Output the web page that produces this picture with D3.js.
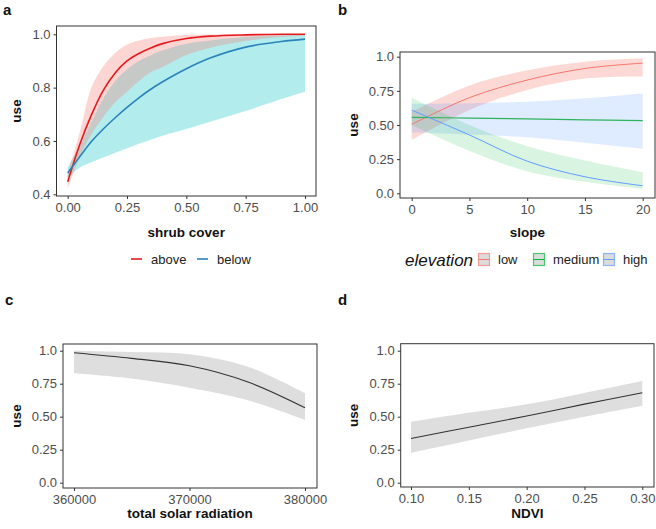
<!DOCTYPE html>
<html><head><meta charset="utf-8">
<script src="https://cdn.jsdelivr.net/npm/d3@7"></script>
<style>
body{margin:0;background:#fff;}
svg{display:block;font-family:"Liberation Sans",Arial,sans-serif;}
</style></head>
<body><svg id="chart" width="656" height="529"></svg>
<script>
// ---------- Panel a: shrub cover ----------
const shrubX      = [0, 0.05, 0.1, 0.15, 0.2, 0.25, 0.3, 0.35, 0.4, 0.5, 0.6, 0.75, 0.9, 1.0];
const aboveFit    = [0.447, 0.585, 0.698, 0.79, 0.855, 0.90, 0.928, 0.949, 0.965, 0.984, 0.993, 0.998, 1.0, 1.0];
const aboveLow    = [0.42, 0.54, 0.625, 0.69, 0.745, 0.785, 0.825, 0.858, 0.877, 0.922, 0.95, 0.975, 0.99, 0.995];
const aboveHigh   = [0.48, 0.63, 0.80, 0.88, 0.93, 0.962, 0.977, 0.986, 0.991, 0.997, 0.999, 1.0, 1.0, 1.0];
const belowFit    = [0.48, 0.54, 0.598, 0.645, 0.687, 0.726, 0.762, 0.794, 0.822, 0.871, 0.911, 0.952, 0.973, 0.982];
const belowLow    = [0.462, 0.50, 0.52, 0.538, 0.556, 0.573, 0.59, 0.605, 0.62, 0.645, 0.672, 0.712, 0.757, 0.785];
const belowHigh   = [0.50, 0.58, 0.67, 0.76, 0.825, 0.869, 0.90, 0.921, 0.94, 0.965, 0.977, 0.99, 0.996, 1.0];
const shrubXTicks = [0, 0.25, 0.5, 0.75, 1.0];
const shrubYTicks = [0.4, 0.6, 0.8, 1.0];
const shrubGroups = ["above", "below"];

// ---------- Panel b: slope x elevation ----------
const slopeX      = [0, 5, 10, 15, 20];
const lowFit      = [0.505, 0.70, 0.829, 0.914, 0.953];
const lowLo       = [0.39, 0.61, 0.756, 0.84, 0.855];
const lowHi       = [0.597, 0.79, 0.90, 0.963, 0.988];
const mediumFit   = [0.556, 0.551, 0.545, 0.538, 0.532];
const mediumLo    = [0.445, 0.43, 0.41, 0.37, 0.326];
const mediumHi    = [0.655, 0.66, 0.67, 0.695, 0.731];
const highFit     = [0.609, 0.427, 0.235, 0.121, 0.055];
const highLo      = [0.50, 0.31, 0.16, 0.085, 0.033];
const highHi      = [0.70, 0.50, 0.345, 0.24, 0.155];
const slopeXTicks = [0, 5, 10, 15, 20];
const useTicks    = [0, 0.25, 0.5, 0.75, 1.0];
const elevLevels  = ["low", "medium", "high"];

// ---------- Panel c: total solar radiation ----------
const solarX      = [360000, 365000, 370000, 375000, 380000];
const solarFit    = [0.985, 0.942, 0.886, 0.765, 0.568];
const solarLo     = [0.83, 0.79, 0.72, 0.626, 0.475];
const solarHi     = [1.0, 0.99, 0.973, 0.88, 0.678];
const solarXTicks = [360000, 370000, 380000];

// ---------- Panel d: NDVI ----------
const ndviX       = [0.10, 0.15, 0.20, 0.25, 0.30];
const ndviFit     = [0.335, 0.42, 0.505, 0.595, 0.682];
const ndviLo      = [0.227, 0.32, 0.412, 0.50, 0.583];
const ndviHi      = [0.462, 0.53, 0.594, 0.68, 0.77];
const ndviXTicks  = [0.10, 0.15, 0.20, 0.25, 0.30];

const svg = d3.select("#chart");
const tickCol = "#4d4d4d";
const curve = d3.curveCatmullRom.alpha(0.5);

function panel(o) {
  const g = svg.append("g");
  const x = d3.scaleLinear().domain(o.xd).range(o.xr);
  const y = d3.scaleLinear().domain(o.yd).range(o.yr);
  svg.append("text").attr("x", o.letter[1]).attr("y", o.letter[2]).text(o.letter[0])
    .attr("font-size", 15).attr("font-weight", "bold").attr("fill", "#111");
  const layer = g.append("g");
  const ax = g.append("g").attr("transform", `translate(0,${o.box[3]})`)
    .call(d3.axisBottom(x).tickValues(o.xt).tickFormat(o.xf).tickSize(3).tickPadding(4));
  const ay = g.append("g").attr("transform", `translate(${o.box[0]},0)`)
    .call(d3.axisLeft(y).tickValues(o.yt).tickFormat(o.yf).tickSize(3).tickPadding(3));
  [ax, ay].forEach(a => {
    a.select(".domain").remove();
    a.selectAll(".tick line").attr("stroke", "#333").attr("stroke-width", 1);
    a.selectAll(".tick text").attr("fill", tickCol).attr("font-size", 13)
      .attr("font-family", "'Liberation Sans',Arial,sans-serif");
  });
  g.append("rect").attr("x", o.box[0]).attr("y", o.box[1])
    .attr("width", o.box[2] - o.box[0]).attr("height", o.box[3] - o.box[1])
    .attr("fill", "none").attr("stroke", "#333").attr("stroke-width", 1);
  svg.append("text").attr("x", (o.box[0] + o.box[2]) / 2).attr("y", o.xtY).attr("text-anchor", "middle")
    .attr("font-size", 13.5).attr("font-weight", "bold").attr("fill", "#111").text(o.xlab);
  svg.append("text").attr("transform", `translate(${o.ytX},${(o.box[1] + o.box[3]) / 2}) rotate(-90)`)
    .attr("text-anchor", "middle").attr("font-size", 13.5).attr("font-weight", "bold").attr("fill", "#111").text("use");
  return {x, y, layer};
}

function ribbon(p, xs, lo, hi, fill, op) {
  const area = d3.area().x((d, i) => p.x(xs[i])).y0((d, i) => p.y(lo[i])).y1((d, i) => p.y(hi[i])).curve(curve);
  p.layer.append("path").datum(xs).attr("d", area).attr("fill", fill).attr("fill-opacity", op);
}
function line(p, xs, ys, col, w) {
  const ln = d3.line().x((d, i) => p.x(xs[i])).y((d, i) => p.y(ys[i])).curve(curve);
  p.layer.append("path").datum(xs).attr("d", ln).attr("fill", "none").attr("stroke", col).attr("stroke-width", w);
}

// Panel a
const pa = panel({xd: [0, 1], xr: [67.7, 305], yd: [0.4, 1.0], yr: [194.3, 34.3],
  box: [56.5, 26, 316, 196], xt: shrubXTicks, xf: d3.format(".2f"), yt: shrubYTicks, yf: d3.format(".1f"),
  letter: ["a", 3, 15], xlab: "shrub cover", xtY: 237, ytX: 21});
ribbon(pa, shrubX, belowLow, belowHigh, "#00BFC4", 0.3);
ribbon(pa, shrubX, aboveLow, aboveHigh, "#F8766D", 0.3);
line(pa, shrubX, aboveFit, "#e41a1c", 1.6);
line(pa, shrubX, belowFit, "#2b83ba", 1.6);
const legA = [{k: shrubGroups[0], c: "#e41a1c", x: 131}, {k: shrubGroups[1], c: "#2b83ba", x: 197}];
legA.forEach(d => {
  svg.append("line").attr("x1", d.x).attr("x2", d.x + 11).attr("y1", 259).attr("y2", 259)
    .attr("stroke", d.c).attr("stroke-width", 1.6);
  svg.append("text").attr("x", d.x + 20).attr("y", 264).attr("font-size", 13).attr("fill", "#222").text(d.k);
});

// Panel b
const fmtUse = d => d === 0 ? "0.0" : d === 1 ? "1.0" : d3.format(".2f")(d);
const pb = panel({xd: [0, 20], xr: [411.7, 642.7], yd: [0, 1], yr: [193.3, 56.7],
  box: [400, 52, 655, 198], xt: slopeXTicks, xf: d3.format("d"), yt: useTicks, yf: fmtUse,
  letter: ["b", 338, 15], xlab: "slope", xtY: 237, ytX: 358});
ribbon(pb, slopeX, lowLo, lowHi, "#F8766D", 0.28);
ribbon(pb, slopeX, mediumLo, mediumHi, "#619CFF", 0.2);
ribbon(pb, slopeX, highLo, highHi, "#00BA38", 0.15);
line(pb, slopeX, lowFit, "#F8766D", 1);
line(pb, slopeX, mediumFit, "#2fb35a", 1.2);
line(pb, slopeX, highFit, "#619CFF", 1);
svg.append("text").attr("x", 405).attr("y", 266).attr("font-size", 17).attr("font-style", "italic")
  .attr("fill", "#111").text("elevation");
const legB = [{k: elevLevels[0], c: "#F8766D", x: 478}, {k: elevLevels[1], c: "#00BA38", x: 533}, {k: elevLevels[2], c: "#619CFF", x: 603}];
legB.forEach(d => {
  svg.append("rect").attr("x", d.x + 0.5).attr("y", 253.5).attr("width", 11).attr("height", 12)
    .attr("fill", "#dcdcdc").attr("stroke", d.c).attr("stroke-width", 1.2).attr("stroke-opacity", 0.7);
  svg.append("line").attr("x1", d.x + 0.5).attr("x2", d.x + 11.5).attr("y1", 259.5).attr("y2", 259.5)
    .attr("stroke", d.c).attr("stroke-width", 1);
  svg.append("text").attr("x", d.x + 20).attr("y", 264).attr("font-size", 13).attr("fill", "#222").text(d.k);
});

// Panel c
const pc = panel({xd: [360000, 380000], xr: [74, 305], yd: [0, 1], yr: [482.7, 350.7],
  box: [63, 344, 317, 488], xt: solarXTicks, xf: d3.format("d"), yt: useTicks, yf: fmtUse,
  letter: ["c", 5, 305], xlab: "total solar radiation", xtY: 518, ytX: 21});
ribbon(pc, solarX, solarLo, solarHi, "#bdbdbd", 0.5);
line(pc, solarX, solarFit, "#333", 1.1);

// Panel d
const pd = panel({xd: [0.1, 0.3], xr: [411, 642.3], yd: [0, 1], yr: [482.7, 350.7],
  box: [400.7, 343.7, 654, 487], xt: ndviXTicks, xf: d3.format(".2f"), yt: useTicks, yf: fmtUse,
  letter: ["d", 338, 305], xlab: "NDVI", xtY: 518, ytX: 358});
ribbon(pd, ndviX, ndviLo, ndviHi, "#bdbdbd", 0.5);
line(pd, ndviX, ndviFit, "#333", 1.1);
</script></body></html>
